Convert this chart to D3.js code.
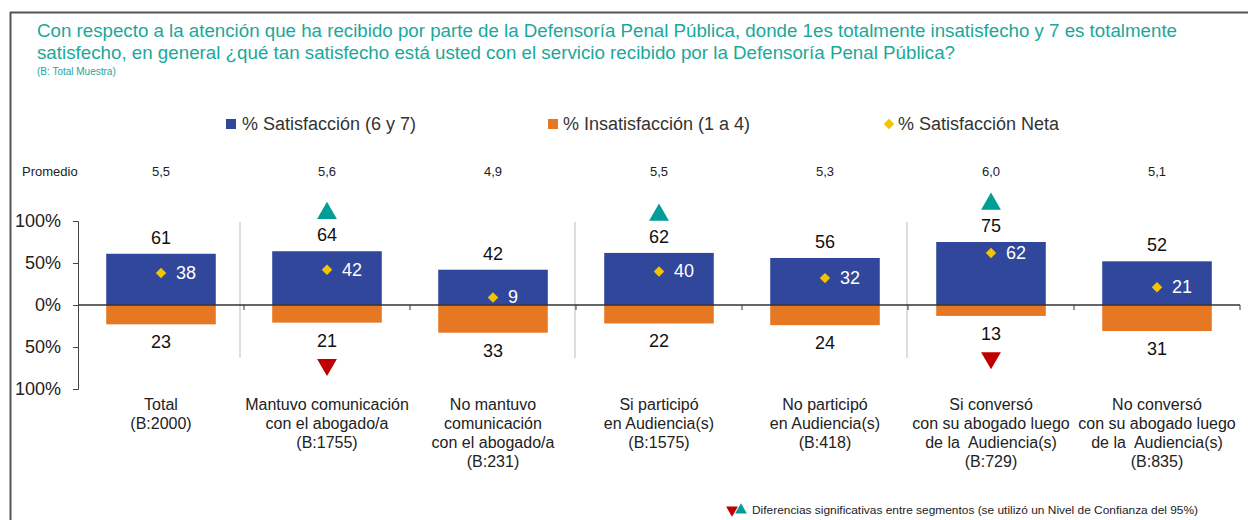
<!DOCTYPE html>
<html>
<head>
<meta charset="utf-8">
<script src="https://cdn.jsdelivr.net/npm/d3@7"></script>
<style>
  body { margin: 0; background: #fff; }
  svg { display: block; font-family: Arial, "Liberation Sans", sans-serif; }
</style>
</head>
<body>
<svg id="chart"></svg>
<script>
// categories (x-axis labels, one array of lines per bar)
var categories = ["total", "mantuvo", "noMantuvo", "siParticipo", "noParticipo", "siConverso", "noConverso"];
var catLabels = [
  ["Total", "(B:2000)"],
  ["Mantuvo comunicación", "con el abogado/a", "(B:1755)"],
  ["No mantuvo", "comunicación", "con el abogado/a", "(B:231)"],
  ["Si participó", "en Audiencia(s)", "(B:1575)"],
  ["No participó", "en Audiencia(s)", "(B:418)"],
  ["Si conversó", "con su abogado luego", "de la  Audiencia(s)", "(B:729)"],
  ["No conversó", "con su abogado luego", "de la  Audiencia(s)", "(B:835)"]
];
var satisfaccion = [61, 64, 42, 62, 56, 75, 52];
var insatisfaccion = [23, 21, 33, 22, 24, 13, 31];
var neta = [38, 42, 9, 40, 32, 62, 21];
var promedio = ["5,5", "5,6", "4,9", "5,5", "5,3", "6,0", "5,1"];
// significance marks: up = above, down = below
var sigUp = [false, true, false, true, false, true, false];
var sigDown = [false, true, false, false, false, true, false];
// a separator line is drawn after these categories
var groupEnds = [0, 2, 4];
var yTicks = [-100, -50, 0, 50, 100];

var W = 1248, H = 520;
var svg = d3.select("#chart").attr("width", W).attr("height", H);

var teal = "#1aa89b", blue = "#30479b", orange = "#e77823", gold = "#f2c500";

// frame
svg.append("line").attr("x1", 10).attr("x2", W).attr("y1", 12.5).attr("y2", 12.5)
  .attr("stroke", "#555").attr("stroke-width", 2);
svg.append("line").attr("x1", 10.5).attr("x2", 10.5).attr("y1", 12).attr("y2", H)
  .attr("stroke", "#555").attr("stroke-width", 2);

// title
var title = svg.append("g").attr("fill", teal).style("font-size", "17.5px");
title.append("text").attr("x", 37).attr("y", 37)
  .attr("textLength", 1140).attr("lengthAdjust", "spacingAndGlyphs")
  .text("Con respecto a la atención que ha recibido por parte de la Defensoría Penal Pública, donde 1es totalmente insatisfecho y 7 es totalmente");
title.append("text").attr("x", 37).attr("y", 59)
  .attr("textLength", 918).attr("lengthAdjust", "spacingAndGlyphs")
  .text("satisfecho, en general ¿qué tan satisfecho está usted con el servicio recibido por la Defensoría Penal Pública?");
svg.append("text").attr("x", 37).attr("y", 75).attr("fill", teal)
  .style("font-size", "10px").text("(B: Total Muestra)");

// legend
var lg = svg.append("g").style("font-size", "18px").attr("fill", "#333");
lg.append("rect").attr("x", 226).attr("y", 119).attr("width", 10).attr("height", 10).attr("fill", blue);
lg.append("text").attr("x", 242).attr("y", 130).text("% Satisfacción (6 y 7)");
lg.append("rect").attr("x", 548).attr("y", 119).attr("width", 10).attr("height", 10).attr("fill", orange);
lg.append("text").attr("x", 563).attr("y", 130).text("% Insatisfacción (1 a 4)");
lg.append("path").attr("d", d3.symbol(d3.symbolDiamond2, 70)()).attr("transform", "translate(889,124)").attr("fill", gold);
lg.append("text").attr("x", 898).attr("y", 130).text("% Satisfacción Neta");

// scales
var x = d3.scaleBand().domain(categories).range([78, 1240]).padding(0);
var y = d3.scaleLinear().domain([-100, 100]).range([389, 221]);
var bw = x.bandwidth() * 0.66;
var cx = function(i) { return x(categories[i]) + x.bandwidth() / 2; };

// promedio row
svg.append("text").attr("x", 22).attr("y", 176).style("font-size", "13px").attr("fill", "#222").text("Promedio");
svg.selectAll(".prom").data(promedio).enter().append("text")
  .attr("x", function(d, i) { return cx(i); }).attr("y", 176)
  .attr("text-anchor", "middle").style("font-size", "13px").attr("fill", "#222")
  .text(function(d) { return d; });

// group separators
svg.selectAll(".sep").data(groupEnds).enter().append("line")
  .attr("x1", function(d) { return x(categories[d]) + x.bandwidth() - 4 + (d > 0 ? 3 : 0); })
  .attr("x2", function(d) { return x(categories[d]) + x.bandwidth() - 4 + (d > 0 ? 3 : 0); })
  .attr("y1", 222).attr("y2", 358)
  .attr("stroke", "#c8c8c8").attr("stroke-width", 1.2);

// y axis
var yAxis = svg.append("g").attr("transform", "translate(78,0)")
  .call(d3.axisLeft(y).tickValues(yTicks).tickSize(5).tickPadding(12)
    .tickFormat(function(d) { return Math.abs(d) + "%"; }));
yAxis.select(".domain").attr("stroke", "#444");
yAxis.selectAll(".tick line").attr("stroke", "#444");
yAxis.selectAll("text").style("font-size", "18px").style("font-family", "Arial, 'Liberation Sans', sans-serif").attr("fill", "#222");

// bars
svg.selectAll(".sat").data(satisfaccion).enter().append("rect")
  .attr("x", function(d, i) { return cx(i) - bw / 2; })
  .attr("y", function(d) { return y(d); })
  .attr("width", bw).attr("height", function(d) { return y(0) - y(d); })
  .attr("fill", blue);
svg.selectAll(".ins").data(insatisfaccion).enter().append("rect")
  .attr("x", function(d, i) { return cx(i) - bw / 2; })
  .attr("y", y(0))
  .attr("width", bw).attr("height", function(d) { return y(-d) - y(0); })
  .attr("fill", orange);

// x axis (zero line) with ticks between categories
var xAxis = svg.append("g").attr("transform", "translate(0," + y(0) + ")");
xAxis.append("line").attr("x1", 78).attr("x2", 1240).attr("stroke", "#333").attr("stroke-width", 1.3);
xAxis.selectAll(".xt").data(categories).enter().append("line")
  .attr("x1", function(d) { return x(d) + x.bandwidth(); })
  .attr("x2", function(d) { return x(d) + x.bandwidth(); })
  .attr("y1", 0).attr("y2", 5).attr("stroke", "#333");

// value labels
svg.selectAll(".satLbl").data(satisfaccion).enter().append("text")
  .attr("x", function(d, i) { return cx(i); }).attr("y", function(d) { return y(d) - 10; })
  .attr("text-anchor", "middle").style("font-size", "18px").attr("fill", "#111")
  .text(function(d) { return d; });
svg.selectAll(".insLbl").data(insatisfaccion).enter().append("text")
  .attr("x", function(d, i) { return cx(i); }).attr("y", function(d) { return y(-d) + 24; })
  .attr("text-anchor", "middle").style("font-size", "18px").attr("fill", "#111")
  .text(function(d) { return d; });

// net satisfaction diamonds
svg.selectAll(".neta").data(neta).enter().append("path")
  .attr("d", d3.symbol(d3.symbolDiamond2, 70)())
  .attr("transform", function(d, i) { return "translate(" + cx(i) + "," + y(d) + ")"; })
  .attr("fill", gold);
svg.selectAll(".netaLbl").data(neta).enter().append("text")
  .attr("x", function(d, i) { return cx(i) + 15; }).attr("y", function(d) { return y(d) + 6; })
  .style("font-size", "18px").attr("fill", "#fff")
  .text(function(d) { return d; });

// significance triangles
var tri = d3.symbol(d3.symbolTriangle, 170);
satisfaccion.forEach(function(d, i) {
  if (sigUp[i]) {
    svg.append("path").attr("d", tri()).attr("fill", "#009e96")
      .attr("transform", "translate(" + cx(i) + "," + (y(d) - 38) + ")");
  }
});
insatisfaccion.forEach(function(d, i) {
  if (sigDown[i]) {
    svg.append("path").attr("d", tri()).attr("fill", "#c00000")
      .attr("transform", "translate(" + cx(i) + "," + (y(-d) + 42) + ") rotate(180)");
  }
});

// category labels
catLabels.forEach(function(lines, i) {
  var t = svg.append("text").attr("text-anchor", "middle").style("font-size", "16px")
    .style("white-space", "pre").attr("fill", "#222");
  lines.forEach(function(l, k) {
    t.append("tspan").attr("x", cx(i)).attr("y", 410 + k * 19).text(l);
  });
});

// footnote
svg.append("path").attr("d", d3.symbol(d3.symbolTriangle, 60)())
  .attr("transform", "translate(732,510) rotate(180)").attr("fill", "#c00000");
svg.append("path").attr("d", d3.symbol(d3.symbolTriangle, 60)())
  .attr("transform", "translate(741,510)").attr("fill", "#009e96");
svg.append("text").attr("x", 752).attr("y", 514).style("font-size", "11px").attr("fill", "#222")
  .attr("textLength", 446).attr("lengthAdjust", "spacingAndGlyphs")
  .text("Diferencias significativas entre segmentos (se utilizó un Nivel de Confianza del 95%)");
</script>
</body>
</html>
